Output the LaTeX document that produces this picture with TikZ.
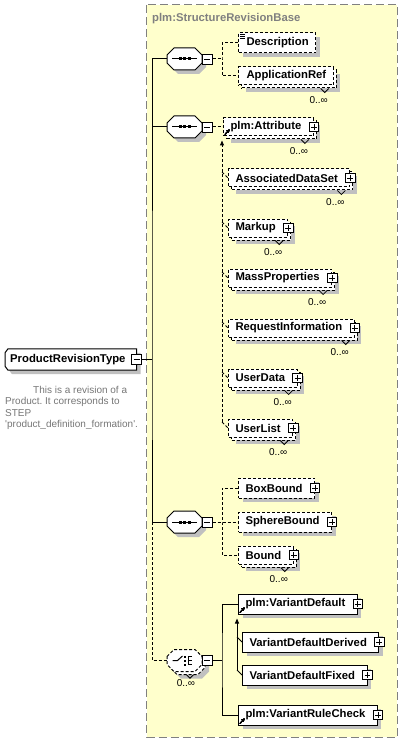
\documentclass[tikz,border=0pt]{standalone}
\usepackage{fontspec}
\setmainfont{Liberation Sans}
\usetikzlibrary{shadows,calc,arrows.meta}
\pgfdeclarelayer{back}
\pgfsetlayers{back,main}
\frenchspacing
\definecolor{bgyellow}{RGB}{255,255,204}
\definecolor{shgray}{RGB}{192,192,192}
\definecolor{bordergray}{RGB}{128,128,128}
\definecolor{docgray}{RGB}{118,118,118}
\newcommand{\PTxt}[1]{\hspace*{7pt}#1\hspace*{12pt}}
\newcommand{\NTxt}[1]{\hspace*{8pt}#1\hspace*{7pt}}
\newcommand{\OctShape}[2]{%
  \begin{scope}[shift={(#1.center)}]
    \path[#2] (-17.5,-4) -- (-10.5,-11) -- (10.5,-11) -- (17.5,-4) -- (17.5,4) -- (10.5,11) -- (-10.5,11) -- (-17.5,4) -- cycle;
  \end{scope}}
\newcommand{\SeqCompo}[3]{%
  \node[compo] (#1) at (#2,#3) {};
  \begin{pgfonlayer}{back}
    \OctShape{#1}{fill=shgray, shift={(4,4)}}
    \OctShape{#1}{draw=black, fill=white, line width=1pt}
  \end{pgfonlayer}
  \draw[ln] ($(#1.center)+(-12.5,0)$) -- ($(#1.center)+(12.5,0)$);
  \foreach \dx in {-4.5,0,4.5} \fill ($(#1.center)+(\dx-1.5,-1.5)$) rectangle ++(3,3);
  \node[minusbox] (#1-m) at ([xshift=5pt]#1.east) {};
}
\newcommand{\MultMark}[1]{%
  \draw[line width=0.8pt] ($(#1.south east)+(-13,3)$) -- ($(#1.south east)+(-9,7)$) -- ($(#1.south east)+(-5,3)$);
  \node[mult] (#1-n) at ($(#1.south east)+(-15,15)$) {0..∞};
}
\newcommand{\RefTip}[1]{\draw[reftip] ($(#1.south west)+(2,-2)$) -- ($(#1.south west)+(6.5,-7)$);}
\tikzset{
  ln/.style={line width=1pt},
  dsh/.style={line width=1pt, dash pattern=on 3pt off 2pt},
  el/.style={draw=black, fill=white, rectangle, line width=1pt, inner sep=0pt,
     minimum height=20pt, anchor=west, font=\fontsize{11.3}{13}\selectfont\bfseries},
  opt/.style={dash pattern=on 3pt off 2pt},
  one/.style={drop shadow={shadow xshift=4pt, shadow yshift=-4pt, opacity=1, fill=shgray}},
  multi/.style={minimum height=18pt,
     general shadow={shadow xshift=7pt, shadow yshift=-7pt, opacity=1, fill=shgray, draw=none},
     general shadow={shadow xshift=3pt, shadow yshift=-3pt, fill=white, draw=black, line width=1pt, dash pattern=on 3pt off 2pt}},
  pm/.style={draw=black, fill=white, rectangle, line width=0.8pt, inner sep=0pt, minimum size=9.5pt},
  plusbox/.style={pm, path picture={
     \draw[line width=0.8pt] ([xshift=1.8pt]path picture bounding box.west) -- ([xshift=-1.8pt]path picture bounding box.east);
     \draw[line width=0.8pt] ([yshift=-1.8pt]path picture bounding box.north) -- ([yshift=1.8pt]path picture bounding box.south);}},
  minusbox/.style={pm, minimum size=10pt, path picture={
     \draw[line width=0.8pt] ([xshift=1.8pt]path picture bounding box.west) -- ([xshift=-1.8pt]path picture bounding box.east);}},
  compo/.style={rectangle, inner sep=0pt, minimum width=35pt, minimum height=22pt},
  mult/.style={font=\fontsize{10}{12}\selectfont, inner sep=0pt},
  reftip/.style={line width=0.9pt, -{Stealth[length=3pt,width=3.2pt]}},
  subarrow/.style={-{Triangle[length=5pt,width=4pt]}},
  doc/.style={align=left, font=\fontsize{10}{11.3}\selectfont, text=docgray, inner sep=0pt, anchor=north west},
  ttl/.style={anchor=west, font=\fontsize{11.3}{13}\selectfont\bfseries, text=bordergray, inner sep=0pt}
}
\begin{document}
\begin{tikzpicture}[x=1pt,y=-1pt]
\useasboundingbox (0,0) rectangle (402,743);
\begin{pgfonlayer}{back}
  \draw[draw=bordergray, fill=bgyellow, line width=1pt, dash pattern=on 8pt off 4pt] (146.5,5) rectangle (397,737);
\end{pgfonlayer}
\node[ttl] (title) at (152,18.5) {plm:StructureRevisionBase};

% main type
\node[font=\fontsize{11.3}{13}\selectfont\bfseries, inner sep=0pt, minimum height=21pt, anchor=west] (prt) at (5,359.5) {\hspace*{5pt}ProductRevisionType\hspace*{11pt}};
\begin{pgfonlayer}{back}
  \fill[shgray] ($(prt.north west)+(7,4)$) -- ($(prt.north east)+(4,4)$) -- ($(prt.south east)+(4,4)$) -- ($(prt.south west)+(7,4)$) -- ($(prt.south west)+(4,0)$) -- ($(prt.north west)+(4,8)$) -- cycle;
  \draw[ln, fill=white] ($(prt.north west)+(3,0)$) -- (prt.north east) -- (prt.south east) -- ($(prt.south west)+(3,0)$) -- ($(prt.south west)+(0,-4)$) -- ($(prt.north west)+(0,4)$) -- cycle;
\end{pgfonlayer}
\node[minusbox] (prt-m) at (prt.east) {};
\node[doc] (doc) at (5,386) {\hspace*{28pt}This is a revision of a\\Product. It corresponds to\\STEP\\\textquotesingle product\_definition\_formation\textquotesingle .};

% compositors
\SeqCompo{s1}{184.5}{59}
\SeqCompo{s2}{184.5}{127}
\SeqCompo{s3}{184.5}{522}

\node[compo] (ch) at (184.5,660.5) {};
\begin{pgfonlayer}{back}
  \OctShape{ch}{fill=shgray, shift={(7,7)}}
  \OctShape{ch}{draw=black, fill=white, dsh, shift={(3,3)}}
  \OctShape{ch}{draw=black, fill=white, dsh}
\end{pgfonlayer}
\draw[ln] ($(ch.center)+(-12,0)$) -- ($(ch.center)+(-7,0)$) -- ($(ch.center)+(-2,-4.5)$);
\draw[ln] ($(ch.center)+(3.5,-4)$) -- ($(ch.center)+(3.5,4)$);
\foreach \dy in {-4,0,4} {\draw[ln] ($(ch.center)+(3.5,\dy)$) -- ++(4,0); \fill ($(ch.center)+(-0.5,\dy-1)$) rectangle ++(2,2);}
\node[minusbox] (ch-m) at ([xshift=5pt]ch.east) {};
\draw[line width=0.8pt] ($(ch.south)+(2,3)$) -- ($(ch.south)+(5.5,6.5)$) -- ($(ch.south)+(9,3)$);
\node[mult] (ch-n) at ($(ch.south)+(1.5,11.5)$) {0..∞};

% elements
\node[el, opt, one]   (desc)    at (238,43)  {\NTxt{Description}};
\node[el, opt, multi] (appref)  at (238,76)  {\NTxt{ApplicationRef}};
\node[el, opt, multi] (attr)    at (223,127) {\PTxt{plm:Attribute}};
\node[el, opt, multi] (assoc)   at (228,178) {\PTxt{AssociatedDataSet}};
\node[el, opt, multi] (markup)  at (228,228) {\PTxt{Markup}};
\node[el, opt, multi] (mass)    at (228,278) {\PTxt{MassProperties}};
\node[el, opt, multi] (reqinfo) at (228,328) {\PTxt{RequestInformation}};
\node[el, opt, multi] (udata)   at (228,378) {\PTxt{UserData}};
\node[el, opt, multi] (ulist)   at (228,428) {\PTxt{UserList}};
\node[el, opt, one]   (boxb)    at (238,488) {\PTxt{BoxBound}};
\node[el, opt, one]   (sphb)    at (238,522) {\PTxt{SphereBound}};
\node[el, opt, multi] (bound)   at (238,555) {\PTxt{Bound}};
\node[el, one]        (vdef)    at (238,604) {\PTxt{plm:VariantDefault}};
\node[el, one]        (vdd)     at (242,642) {\PTxt{VariantDefaultDerived}};
\node[el, one]        (vdf)     at (242,675) {\PTxt{VariantDefaultFixed}};
\node[el, one]        (vrc)     at (238,715) {\PTxt{plm:VariantRuleCheck}};

\foreach \n in {attr,assoc,markup,mass,reqinfo,udata,ulist,boxb,sphb,bound,vdef,vdd,vdf,vrc}
  \node[plusbox] (\n-p) at (\n.east) {};
\foreach \n in {appref,attr,assoc,markup,mass,reqinfo,udata,ulist,bound}
  \MultMark{\n}
\foreach \n in {attr,vdef,vrc}
  \RefTip{\n}
\foreach \d in {1.5,3.5,5.5}
  \draw[line width=0.8pt] ($(desc.north west)+(2,\d)$) -- ++(5,0);

% trunk
\coordinate (tk) at (152,359.5);
\draw[ln] (prt-m.east) -- (tk);
\draw[ln] (s1.west) -| (tk) |- (s3.west);
\draw[ln] (s2.west) -- (s2.west -| tk);
\draw[dsh] (s3.west -| tk) |- (ch.west);

% sequence 1
\coordinate (j1) at (222,59);
\draw[dsh] (s1-m.east) -- (j1);
\draw[dsh] (desc.west) -| (j1) |- (appref.west);

% sequence 2 with substitution members
\draw[dsh] (s2-m.east) -- (attr.west);
\coordinate (sa) at ($(attr.south west)+(-1,4)$);
\foreach \m in {assoc,markup,mass,reqinfo,udata,ulist}
  \draw[dsh] ($(\m.west)+(-6,-6)$) -- (\m.west);
\draw[dsh, subarrow] ($(ulist.west)+(-6,-6)$) -- (sa);

% sequence 3
\coordinate (j3) at (222,522);
\draw[dsh] (s3-m.east) -- (sphb.west);
\draw[dsh] (boxb.west) -| (j3) |- (bound.west);

% choice
\coordinate (j4) at (222,660.5);
\draw[ln] (ch-m.east) -- (j4);
\draw[ln] (vdef.west) -| (j4) |- (vrc.west);
\coordinate (sb) at ($(vdef.south west)+(-1,4)$);
\foreach \m in {vdd,vdf}
  \draw[ln] ($(\m.west)+(-5,-5)$) -- (\m.west);
\draw[ln, subarrow] ($(vdf.west)+(-5,-5)$) -- (sb);
\end{tikzpicture}
\end{document}
